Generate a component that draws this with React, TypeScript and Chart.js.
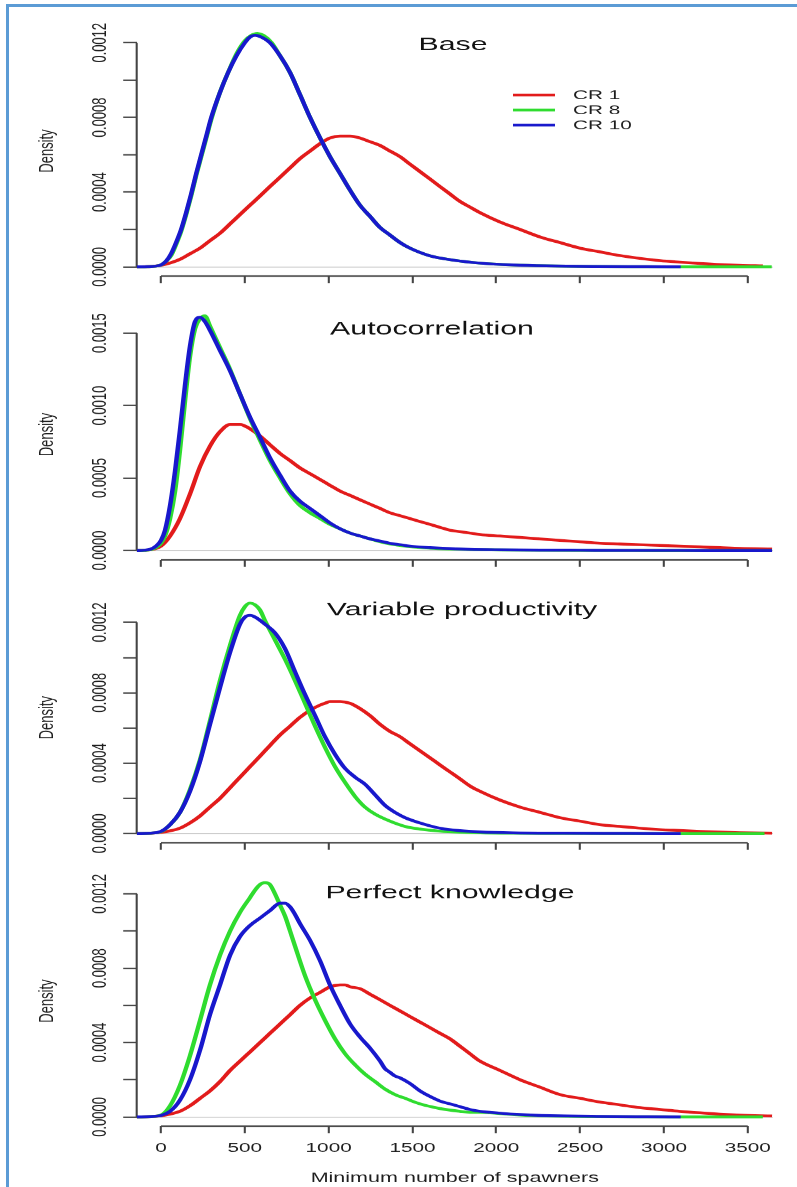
import React, { useEffect, useRef } from "react";
import { Chart, registerables } from "chart.js";

Chart.register(...registerables);

// ---------------- data ----------------
const SERIES_LABELS = ["CR 1", "CR 8", "CR 10"];
const PANEL_TITLES = ["Base", "Autocorrelation", "Variable productivity", "Perfect knowledge"];
const X_TITLE = "Minimum number of spawners";
const Y_TITLE = "Density";
const X_TICKS = [0, 500, 1000, 1500, 2000, 2500, 3000, 3500];
const X_TICK_LABELS = ["0", "500", "1000", "1500", "2000", "2500", "3000", "3500"];
const Y_TICKS_A = [0, 0.0002, 0.0004, 0.0006, 0.0008, 0.001, 0.0012];
const Y_LABEL_VALUES_A = [0, 0.0004, 0.0008, 0.0012];
const Y_LABELS_A = ["0.0000", "0.0004", "0.0008", "0.0012"];
const Y_TICKS_B = [0, 0.0005, 0.001, 0.0015];
const Y_LABEL_VALUES_B = [0, 0.0005, 0.001, 0.0015];
const Y_LABELS_B = ["0.0000", "0.0005", "0.0010", "0.0015"];
const PANEL_YMAX = [0.00124, 0.0016, 0.001316, 0.001246];
const X_MIN = -145;
const X_MAX = 3650;

// Base
const baseCR1X = [-145, -60, 0, 54, 113, 173, 233, 292, 352, 412, 471, 531, 591, 650, 710, 770, 830, 889, 949, 1008, 1068, 1128, 1187, 1247, 1307, 1366, 1426, 1485, 1545, 1605, 1664, 1724, 1784, 1843, 1903, 2022, 2142, 2261, 2380, 2500, 2619, 2738, 2857, 2977, 3096, 3215, 3335, 3454, 3590];
const baseCR1Y = [0, 0.000002, 0.000008, 0.00002, 0.00004, 0.00007, 0.0001, 0.00014, 0.00018, 0.00023, 0.00028, 0.00033, 0.00038, 0.00043, 0.00048, 0.00053, 0.00058, 0.00062, 0.00066, 0.00069, 0.0007, 0.0007, 0.00069, 0.00067, 0.00065, 0.00062, 0.00059, 0.00055, 0.00051, 0.00047, 0.00043, 0.00039, 0.00035, 0.00032, 0.00029, 0.00024, 0.0002, 0.00016, 0.00013, 0.0001, 0.00008, 0.00006, 0.000045, 0.000033, 0.000025, 0.000018, 0.000012, 0.000008, 0.000005];
const baseCR8X = [-145, -80, -30, 0, 30, 60, 90, 120, 150, 180, 210, 240, 270, 300, 350, 400, 450, 500, 540, 575, 610, 660, 710, 770, 830, 889, 949, 1008, 1068, 1128, 1187, 1247, 1307, 1366, 1426, 1485, 1600, 1750, 1900, 2100, 2300, 2600, 2900, 3200, 3643];
const baseCR8Y = [0, 0.000001, 0.000004, 0.00001, 0.00003, 0.00006, 0.00012, 0.00019, 0.00028, 0.00038, 0.00049, 0.00059, 0.00069, 0.00079, 0.00093, 0.00104, 0.00114, 0.00121, 0.00124, 0.00125, 0.00124, 0.0012, 0.00113, 0.00104, 0.00092, 0.0008, 0.00069, 0.00059, 0.0005, 0.00041, 0.00033, 0.00027, 0.00021, 0.00017, 0.00013, 0.0001, 0.00006, 0.000035, 0.00002, 0.00001, 0.000005, 0.000002, 0.000001, 0, 0];
const baseCR10X = [-145, -80, -30, 0, 30, 60, 90, 120, 150, 180, 210, 240, 270, 300, 350, 400, 450, 500, 530, 561, 600, 650, 710, 770, 830, 889, 949, 1008, 1068, 1128, 1187, 1247, 1307, 1366, 1426, 1485, 1600, 1750, 1900, 2100, 2300, 2600, 2900, 3100];
const baseCR10Y = [0, 0.000001, 0.000004, 0.00001, 0.00003, 0.00007, 0.00013, 0.0002, 0.00029, 0.00039, 0.0005, 0.0006, 0.0007, 0.0008, 0.00093, 0.00104, 0.00113, 0.0012, 0.00123, 0.00124, 0.00123, 0.0012, 0.00113, 0.00104, 0.00092, 0.0008, 0.00069, 0.00059, 0.0005, 0.00041, 0.00033, 0.00027, 0.00021, 0.00017, 0.00013, 0.0001, 0.00006, 0.000035, 0.00002, 0.00001, 0.000005, 0.000002, 0.000001, 0];

// Autocorrelation
const autoCR1X = [-145, -80, -40, 0, 54, 113, 173, 233, 292, 352, 412, 471, 531, 591, 650, 710, 770, 829, 889, 949, 1008, 1068, 1128, 1187, 1247, 1307, 1366, 1426, 1485, 1545, 1605, 1664, 1724, 1784, 1843, 1903, 2022, 2142, 2261, 2380, 2500, 2619, 2738, 2857, 2977, 3096, 3215, 3335, 3454, 3645];
const autoCR1Y = [0, 0.000003, 0.00001, 0.00003, 0.0001, 0.00022, 0.00039, 0.00058, 0.00072, 0.00082, 0.00087, 0.00087, 0.00084, 0.00079, 0.00073, 0.00067, 0.00062, 0.00057, 0.00053, 0.00049, 0.00045, 0.00041, 0.00038, 0.00035, 0.00032, 0.00029, 0.00026, 0.00024, 0.00022, 0.0002, 0.00018, 0.00016, 0.00014, 0.00013, 0.00012, 0.00011, 0.0001, 0.00009, 0.00008, 0.00007, 0.00006, 0.00005, 0.000045, 0.00004, 0.000035, 0.00003, 0.000025, 0.00002, 0.000015, 0.00001];
const autoCR8X = [-145, -100, -60, -30, 0, 24, 54, 84, 113, 143, 173, 203, 233, 262, 292, 352, 412, 471, 531, 591, 650, 710, 770, 829, 889, 949, 1008, 1068, 1128, 1187, 1247, 1307, 1366, 1426, 1485, 1605, 1724, 1843, 2022, 2261, 2500, 2800, 3100, 3400, 3645];
const autoCR8Y = [0, 0.000001, 0.000006, 0.00002, 0.00005, 0.0001, 0.00022, 0.00041, 0.00069, 0.00103, 0.00134, 0.00153, 0.0016, 0.00162, 0.00155, 0.0014, 0.00125, 0.00108, 0.00091, 0.00076, 0.00062, 0.0005, 0.00039, 0.00031, 0.00026, 0.00022, 0.00018, 0.00015, 0.00012, 0.0001, 0.00008, 0.00006, 0.000045, 0.000035, 0.000026, 0.000016, 0.00001, 0.000006, 0.000004, 0.000002, 0.000001, 0.000001, 0, 0, 0];
const autoCR10X = [-145, -100, -60, -30, 0, 24, 54, 84, 113, 143, 173, 203, 233, 262, 292, 352, 412, 471, 531, 591, 650, 710, 770, 829, 889, 949, 1008, 1068, 1128, 1187, 1247, 1307, 1366, 1426, 1485, 1605, 1724, 1843, 2022, 2261, 2500, 2800, 3100, 3400, 3645];
const autoCR10Y = [0, 0.000002, 0.00001, 0.00003, 0.00007, 0.00014, 0.00031, 0.00055, 0.00083, 0.00114, 0.00141, 0.00158, 0.00161, 0.00158, 0.00152, 0.00138, 0.00124, 0.00108, 0.00092, 0.00078, 0.00064, 0.00052, 0.00041, 0.00034, 0.00029, 0.00024, 0.00019, 0.00015, 0.00012, 0.0001, 0.00008, 0.000065, 0.00005, 0.00004, 0.00003, 0.00002, 0.000013, 0.000008, 0.000005, 0.000003, 0.000002, 0.000001, 0.000001, 0, 0];

// Variable productivity
const varCR1X = [-145, -60, 0, 54, 113, 173, 233, 292, 352, 412, 471, 531, 591, 650, 710, 770, 829, 889, 949, 978, 1008, 1068, 1128, 1187, 1247, 1307, 1366, 1426, 1485, 1545, 1605, 1664, 1724, 1784, 1843, 1903, 2022, 2142, 2261, 2380, 2500, 2619, 2738, 2857, 2977, 3096, 3215, 3335, 3454, 3645];
const varCR1Y = [0, 0.000002, 0.000006, 0.000015, 0.00003, 0.00006, 0.0001, 0.00015, 0.0002, 0.00026, 0.00032, 0.00038, 0.00044, 0.0005, 0.00056, 0.00061, 0.00066, 0.0007, 0.00073, 0.00074, 0.00075, 0.00075, 0.00074, 0.00071, 0.00067, 0.00062, 0.00058, 0.00055, 0.00051, 0.00047, 0.00043, 0.00039, 0.00035, 0.00031, 0.00027, 0.00024, 0.00019, 0.00015, 0.00012, 0.00009, 0.00007, 0.00005, 0.00004, 0.00003, 0.000022, 0.000017, 0.000012, 0.000008, 0.000005, 0.000002];
const varCR8X = [-145, -60, 0, 54, 113, 173, 233, 292, 352, 412, 471, 501, 531, 561, 591, 620, 680, 740, 799, 859, 919, 978, 1038, 1098, 1158, 1217, 1277, 1366, 1456, 1545, 1664, 1784, 1903, 2100, 2400, 2800, 3200, 3600];
const varCR8Y = [0, 0.000002, 0.00001, 0.00005, 0.00012, 0.00025, 0.00042, 0.00064, 0.00087, 0.00107, 0.00124, 0.00129, 0.00131, 0.0013, 0.00127, 0.00121, 0.0011, 0.00099, 0.00087, 0.00074, 0.00061, 0.00049, 0.00038, 0.00029, 0.00021, 0.00015, 0.00011, 0.00007, 0.00004, 0.000025, 0.000013, 0.000007, 0.000004, 0.000002, 0.000001, 0, 0, 0];
const varCR10X = [-145, -60, 0, 54, 113, 173, 233, 292, 352, 412, 471, 501, 531, 561, 620, 680, 740, 799, 859, 919, 978, 1038, 1098, 1158, 1217, 1277, 1336, 1396, 1456, 1545, 1664, 1784, 1903, 2100, 2400, 2800, 3100];
const varCR10Y = [0, 0.000002, 0.000012, 0.00005, 0.00012, 0.00024, 0.00041, 0.00062, 0.00083, 0.00103, 0.00119, 0.00123, 0.00124, 0.00123, 0.00119, 0.00114, 0.00105, 0.00092, 0.00079, 0.00067, 0.00055, 0.00045, 0.00037, 0.00032, 0.00028, 0.00022, 0.00016, 0.00012, 0.00009, 0.00006, 0.00003, 0.000016, 0.000009, 0.000004, 0.000002, 0.000001, 0];

// Perfect knowledge
const perfCR1X = [-145, -60, 0, 54, 113, 173, 233, 292, 352, 412, 471, 531, 591, 650, 710, 770, 829, 889, 949, 1008, 1068, 1098, 1128, 1187, 1247, 1307, 1366, 1426, 1485, 1545, 1605, 1664, 1724, 1784, 1843, 1903, 2022, 2142, 2261, 2380, 2500, 2619, 2738, 2857, 2977, 3096, 3215, 3335, 3454, 3645];
const perfCR1Y = [0, 0.000002, 0.000006, 0.000015, 0.00003, 0.00006, 0.0001, 0.00014, 0.00019, 0.00025, 0.0003, 0.00035, 0.0004, 0.00045, 0.0005, 0.00055, 0.0006, 0.00064, 0.00067, 0.0007, 0.00071, 0.00071, 0.0007, 0.00069, 0.00066, 0.00063, 0.0006, 0.00057, 0.00054, 0.00051, 0.00048, 0.00045, 0.00042, 0.00038, 0.00034, 0.0003, 0.00025, 0.0002, 0.00016, 0.00012, 0.0001, 0.00008, 0.000065, 0.00005, 0.00004, 0.00003, 0.000022, 0.000015, 0.00001, 0.000005];
const perfCR8X = [-145, -60, 0, 54, 113, 173, 233, 292, 352, 412, 471, 531, 561, 591, 620, 650, 680, 710, 740, 770, 799, 859, 919, 978, 1038, 1098, 1158, 1217, 1277, 1336, 1396, 1456, 1545, 1664, 1784, 1843, 1903, 1963, 2022, 2142, 2300, 2600, 3000, 3300, 3590];
const perfCR8Y = [0, 0.000002, 0.00001, 0.00006, 0.00017, 0.00033, 0.00052, 0.00071, 0.00087, 0.001, 0.0011, 0.00118, 0.00122, 0.00125, 0.00126, 0.00125, 0.0012, 0.00114, 0.00108, 0.001, 0.00092, 0.00076, 0.00063, 0.00052, 0.00042, 0.00034, 0.00028, 0.00023, 0.00019, 0.00015, 0.00012, 0.0001, 0.00007, 0.000045, 0.00003, 0.000025, 0.000025, 0.000022, 0.000018, 0.00001, 0.000005, 0.000002, 0.000001, 0, 0];
const perfCR10X = [-145, -60, 0, 54, 113, 173, 233, 292, 352, 412, 471, 531, 591, 650, 710, 740, 770, 799, 829, 889, 949, 1008, 1068, 1128, 1187, 1247, 1307, 1336, 1366, 1396, 1426, 1485, 1545, 1605, 1664, 1724, 1784, 1843, 1903, 1963, 2022, 2142, 2321, 2600, 2900, 3100];
const perfCR10Y = [0, 0.000002, 0.000008, 0.00003, 0.00009, 0.0002, 0.00036, 0.00055, 0.00071, 0.00087, 0.00097, 0.00103, 0.00107, 0.00111, 0.00115, 0.00115, 0.00113, 0.00109, 0.00104, 0.00095, 0.00084, 0.00071, 0.0006, 0.0005, 0.00043, 0.00037, 0.0003, 0.00026, 0.00024, 0.00022, 0.00021, 0.00018, 0.00014, 0.00011, 0.000085, 0.00007, 0.000055, 0.00004, 0.00003, 0.000025, 0.00002, 0.000013, 0.000007, 0.000003, 0.000001, 0];

// ---------------- layout / style ----------------
const FONT = '"Liberation Sans", Arial, Helvetica, sans-serif';
const CW = 500; // chart width in chart units
const DPR = 1.5945; // horizontal stretch of the figure
const DISPLAY_W = 797;
const RED = "#e21b1b";
const GREEN = "#2fdc2f";
const BLUE = "#1818cc";
const AXIS = "#444444";
const TEXT = "#1e1e1e";
const ZERO = "#c4c4c4";

const CANVAS_TOP = [0, 283, 567, 850];
const CANVAS_H = [303, 304, 303, 337];
const PLOT_TOP = [26, 26.33, 25.67, 26];
const PLOT_H = 250;
const PLOT_LEFT = 136.7 / DPR;
const PLOT_RIGHT = 772.9 / DPR;
const YLABEL_X = 100 / DPR;
const TITLE_POS = [
  [453, 45],
  [432, 46],
  [462, 43],
  [450, 43],
];

type Series = [number[], number[]];
type PanelCfg = {
  idx: number;
  title: string;
  red: Series;
  green: Series;
  blue: Series;
  ymax: number;
  yTicks: number[];
  yLabelValues: number[];
  yLabels: string[];
  legend: boolean;
  xLabels: boolean;
};

const PANELS: PanelCfg[] = [
  { idx: 0, title: PANEL_TITLES[0], red: [baseCR1X, baseCR1Y], green: [baseCR8X, baseCR8Y], blue: [baseCR10X, baseCR10Y], ymax: PANEL_YMAX[0], yTicks: Y_TICKS_A, yLabelValues: Y_LABEL_VALUES_A, yLabels: Y_LABELS_A, legend: true, xLabels: false },
  { idx: 1, title: PANEL_TITLES[1], red: [autoCR1X, autoCR1Y], green: [autoCR8X, autoCR8Y], blue: [autoCR10X, autoCR10Y], ymax: PANEL_YMAX[1], yTicks: Y_TICKS_B, yLabelValues: Y_LABEL_VALUES_B, yLabels: Y_LABELS_B, legend: false, xLabels: false },
  { idx: 2, title: PANEL_TITLES[2], red: [varCR1X, varCR1Y], green: [varCR8X, varCR8Y], blue: [varCR10X, varCR10Y], ymax: PANEL_YMAX[2], yTicks: Y_TICKS_A, yLabelValues: Y_LABEL_VALUES_A, yLabels: Y_LABELS_A, legend: false, xLabels: false },
  { idx: 3, title: PANEL_TITLES[3], red: [perfCR1X, perfCR1Y], green: [perfCR8X, perfCR8Y], blue: [perfCR10X, perfCR10Y], ymax: PANEL_YMAX[3], yTicks: Y_TICKS_A, yLabelValues: Y_LABEL_VALUES_A, yLabels: Y_LABELS_A, legend: false, xLabels: true },
];

const pts = (s: Series) => s[0].map((x, i) => ({ x, y: s[1][i] }));

function makeDecor(cfg: PanelCfg) {
  return {
    id: "panelDecor" + cfg.idx,
    beforeDatasetsDraw(chart: any) {
      const { ctx, chartArea, scales } = chart;
      const x = scales.x;
      const y = scales.y;
      ctx.save();
      ctx.strokeStyle = AXIS;
      ctx.lineWidth = 1.3;
      ctx.beginPath();
      ctx.moveTo(chartArea.left, y.getPixelForValue(0));
      ctx.lineTo(chartArea.left, y.getPixelForValue(cfg.yTicks[cfg.yTicks.length - 1]));
      ctx.stroke();
      ctx.lineWidth = 1.6;
      ctx.beginPath();
      ctx.moveTo(x.getPixelForValue(X_TICKS[0]), chartArea.bottom);
      ctx.lineTo(x.getPixelForValue(X_TICKS[X_TICKS.length - 1]), chartArea.bottom);
      ctx.stroke();
      ctx.fillStyle = TEXT;
      ctx.font = `13px ${FONT}`;
      ctx.textAlign = "center";
      ctx.textBaseline = "middle";
      cfg.yLabelValues.forEach((v, i) => {
        ctx.save();
        ctx.translate(YLABEL_X, y.getPixelForValue(v));
        ctx.rotate(-Math.PI / 2);
        ctx.fillText(cfg.yLabels[i], 0, 0);
        ctx.restore();
      });
      ctx.restore();
    },
    afterDatasetsDraw(chart: any) {
      const { ctx } = chart;
      ctx.save();
      ctx.fillStyle = "#111111";
      ctx.font = `19px ${FONT}`;
      ctx.textAlign = "center";
      ctx.textBaseline = "middle";
      const [tx, ty] = TITLE_POS[cfg.idx];
      ctx.fillText(cfg.title, tx / DPR, ty);
      if (cfg.legend) {
        const colors = [RED, GREEN, BLUE];
        const rows = [95, 110, 125];
        ctx.font = `13px ${FONT}`;
        ctx.textAlign = "left";
        ctx.fillStyle = TEXT;
        SERIES_LABELS.forEach((lab, i) => {
          ctx.strokeStyle = colors[i];
          ctx.lineWidth = 2.6;
          ctx.beginPath();
          ctx.moveTo(513 / DPR, rows[i]);
          ctx.lineTo(555 / DPR, rows[i]);
          ctx.stroke();
          ctx.fillText(lab, 573 / DPR, rows[i] + 0.5);
        });
      }
      ctx.restore();
    },
  };
}

function buildConfig(cfg: PanelCfg): any {
  const padTop = PLOT_TOP[cfg.idx];
  const xScaleH = CANVAS_H[cfg.idx] - padTop - PLOT_H;
  const ds = (label: string, s: Series, color: string, order: number) => ({
    label,
    data: pts(s),
    borderColor: color,
    backgroundColor: color,
    borderWidth: 2.8,
    pointRadius: 0,
    cubicInterpolationMode: "monotone",
    fill: false,
    order,
  });
  return {
    type: "line",
    data: {
      datasets: [
        ds(SERIES_LABELS[0], cfg.red, RED, 2),
        ds(SERIES_LABELS[1], cfg.green, GREEN, 1),
        ds(SERIES_LABELS[2], cfg.blue, BLUE, 0),
      ],
    },
    options: {
      responsive: false,
      animation: false,
      devicePixelRatio: DPR,
      events: [],
      layout: { padding: { left: 0, right: CW - PLOT_RIGHT, top: padTop, bottom: 0 } },
      plugins: { legend: { display: false }, tooltip: { enabled: false }, title: { display: false } },
      scales: {
        x: {
          type: "linear",
          position: "bottom",
          min: X_MIN,
          max: X_MAX,
          afterBuildTicks: (s: any) => {
            s.ticks = X_TICKS.map((v) => ({ value: v }));
          },
          afterFit: (s: any) => {
            s.height = xScaleH;
          },
          border: { display: false },
          grid: { drawOnChartArea: false, drawTicks: true, tickLength: 7, tickColor: AXIS, tickWidth: 1.3 },
          ticks: {
            display: cfg.xLabels,
            autoSkip: false,
            maxRotation: 0,
            minRotation: 0,
            padding: 7,
            color: TEXT,
            font: { family: FONT, size: 13 },
            callback: (v: number) => X_TICK_LABELS[X_TICKS.indexOf(v)] ?? "",
          },
          title: {
            display: cfg.xLabels,
            text: X_TITLE,
            color: TEXT,
            font: { family: FONT, size: 13.5 },
            padding: { top: 0, bottom: 1 },
          },
        },
        y: {
          type: "linear",
          position: "left",
          min: -0.04 * cfg.ymax,
          max: 1.04 * cfg.ymax,
          afterBuildTicks: (s: any) => {
            s.ticks = cfg.yTicks.map((v) => ({ value: v }));
          },
          afterFit: (s: any) => {
            s.width = PLOT_LEFT;
          },
          border: { display: false },
          grid: {
            drawOnChartArea: true,
            color: (c: any) => (c.tick && c.tick.value === 0 ? ZERO : "rgba(0,0,0,0)"),
            lineWidth: 1,
            drawTicks: true,
            tickLength: 13.5 / DPR,
            tickColor: AXIS,
            tickWidth: 1.4,
          },
          ticks: { display: false },
          title: {
            display: true,
            text: Y_TITLE,
            color: TEXT,
            font: { family: FONT, size: 13 },
            padding: { top: 47 / DPR - 7.8, bottom: 0 },
          },
        },
      },
    },
    plugins: [makeDecor(cfg)],
  };
}

function Panel({ cfg }: { cfg: PanelCfg }) {
  const ref = useRef<HTMLCanvasElement>(null);
  useEffect(() => {
    const chart = new Chart(ref.current as HTMLCanvasElement, buildConfig(cfg));
    return () => chart.destroy();
  }, [cfg]);
  const h = CANVAS_H[cfg.idx];
  return (
    <canvas
      ref={ref}
      width={CW}
      height={h}
      style={{ position: "absolute", left: 0, top: CANVAS_TOP[cfg.idx], width: DISPLAY_W, height: h, display: "block" }}
    />
  );
}

export default function App() {
  return (
    <div style={{ position: "fixed", left: 0, top: 0, width: 797, height: 1187, overflow: "hidden", background: "#ffffff" }}>
      {PANELS.map((p) => (
        <Panel key={p.idx} cfg={p} />
      ))}
      <div
        style={{
          position: "absolute",
          left: 6,
          top: 4,
          width: 791,
          height: 1183,
          boxSizing: "border-box",
          borderLeft: "3px solid #5B9BD5",
          borderTop: "3px solid #5B9BD5",
          pointerEvents: "none",
        }}
      />
    </div>
  );
}
